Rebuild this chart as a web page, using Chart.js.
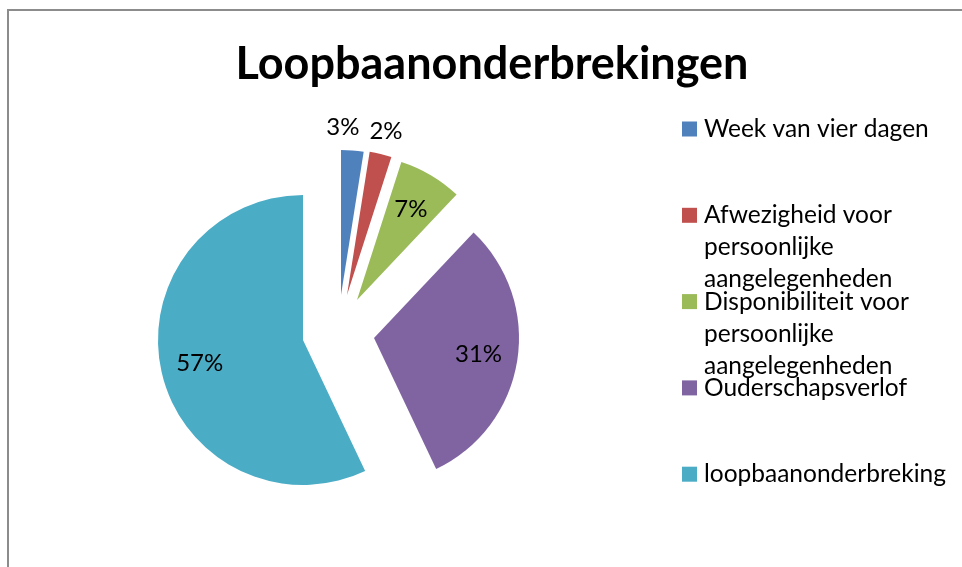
<!DOCTYPE html>
<html>
<head>
<meta charset="utf-8">
<script src="https://cdn.jsdelivr.net/npm/chart.js@4/dist/chart.umd.min.js"></script>
<style>
  html, body { margin: 0; padding: 0; background: #fff; }
  #wrap { position: relative; width: 962px; height: 567px; overflow: hidden; }
  #frame { position: absolute; left: 7px; top: 9px; width: 1000px; height: 600px;
           border-left: 2px solid #8c8c8c; border-top: 2px solid #8c8c8c; box-sizing: border-box; }
  canvas { position: absolute; left: 0; top: 0; }
</style>
</head>
<body>
<div id="wrap">
  <div id="frame"></div>
  <canvas id="c" width="962" height="567"></canvas>
</div>
<script>
const chartTitle = 'Loopbaanonderbrekingen';
const categories = [
  'Week van vier dagen',
  'Afwezigheid voor persoonlijke aangelegenheden',
  'Disponibiliteit voor persoonlijke aangelegenheden',
  'Ouderschapsverlof',
  'loopbaanonderbreking'
];
const shares = [2.5, 2.45, 7.1, 30.9, 57.05];
const colors = ['#4F81BD', '#C0504D', '#9BBB59', '#8064A2', '#4BACC6'];
// explode displacement of each slice (style)
const sliceShift = [[38, -45], [44, -45], [54, -40], [71, -2], [0, 0]];

const FONT = 'Lato, "Noto Sans", sans-serif';

const explodePlugin = {
  id: 'explode',
  afterUpdate(chart) {
    const meta = chart.getDatasetMeta(0);
    meta.data.forEach((arc, i) => {
      arc.x += sliceShift[i][0];
      arc.y += sliceShift[i][1];
    });
  }
};

const labelPlugin = {
  id: 'pctLabels',
  afterDatasetsDraw(chart) {
    const ctx = chart.ctx;
    const meta = chart.getDatasetMeta(0);
    const data = chart.data.datasets[0].data;
    const total = data.reduce((a, b) => a + b, 0);
    ctx.save();
    ctx.font = '24px ' + FONT;
    ctx.fillStyle = '#000';
    ctx.textAlign = 'center';
    ctx.textBaseline = 'middle';
    const items = meta.data.map((arc, i) => {
      const pct = Math.round(data[i] / total * 100);
      const a = (arc.startAngle + arc.endAngle) / 2;
      const outside = pct < 5;
      const r = arc.outerRadius * (outside ? 1.16 : 0.73);
      const text = pct + '%';
      return { text, outside, w: ctx.measureText(text).width,
               x: arc.x + Math.cos(a) * r, y: arc.y + Math.sin(a) * r };
    });
    // keep neighbouring outside labels apart
    const minGap = 10;
    for (let i = items.length - 2; i >= 0; i--) {
      const a = items[i], b = items[i + 1];
      if (a.outside && b.outside) {
        const gap = (b.x - b.w / 2) - (a.x + a.w / 2);
        if (gap < minGap) a.x -= (minGap - gap);
      }
    }
    items.forEach(it => ctx.fillText(it.text, it.x, it.y));
    ctx.restore();
  }
};

function wrapText(ctx, text, maxW) {
  const words = text.split(' ');
  const lines = [];
  let cur = '';
  words.forEach(w => {
    const test = cur ? cur + ' ' + w : w;
    if (ctx.measureText(test).width > maxW && cur) { lines.push(cur); cur = w; }
    else cur = test;
  });
  if (cur) lines.push(cur);
  return lines;
}

const titleLegendPlugin = {
  id: 'titleLegend',
  afterDraw(chart) {
    const ctx = chart.ctx;
    ctx.save();
    ctx.fillStyle = '#000';
    ctx.font = 'bold 45px ' + FONT;
    ctx.textAlign = 'center';
    ctx.textBaseline = 'alphabetic';
    ctx.fillText(chartTitle, 492, 79);

    ctx.font = '24.5px ' + FONT;
    ctx.textAlign = 'left';
    ctx.textBaseline = 'middle';
    const x0 = 682, y0 = 129, slot = 86.3, lineH = 32, box = 15;
    categories.forEach((cat, i) => {
      const y = y0 + slot * i;
      ctx.fillStyle = colors[i];
      ctx.fillRect(x0, y - box / 2, box, box);
      ctx.fillStyle = '#000';
      wrapText(ctx, cat, 255).forEach((ln, j) => ctx.fillText(ln, x0 + 22, y + j * lineH));
    });
    ctx.restore();
  }
};

new Chart(document.getElementById('c'), {
  type: 'pie',
  data: {
    labels: categories,
    datasets: [{ data: shares, backgroundColor: colors, borderWidth: 0 }]
  },
  options: {
    responsive: false,
    animation: false,
    events: [],
    radius: 145,
    layout: { padding: { left: 153, right: 509, top: 190, bottom: 77 } },
    plugins: { legend: { display: false }, title: { display: false }, tooltip: { enabled: false } }
  },
  plugins: [explodePlugin, labelPlugin, titleLegendPlugin]
});
</script>
</body>
</html>
